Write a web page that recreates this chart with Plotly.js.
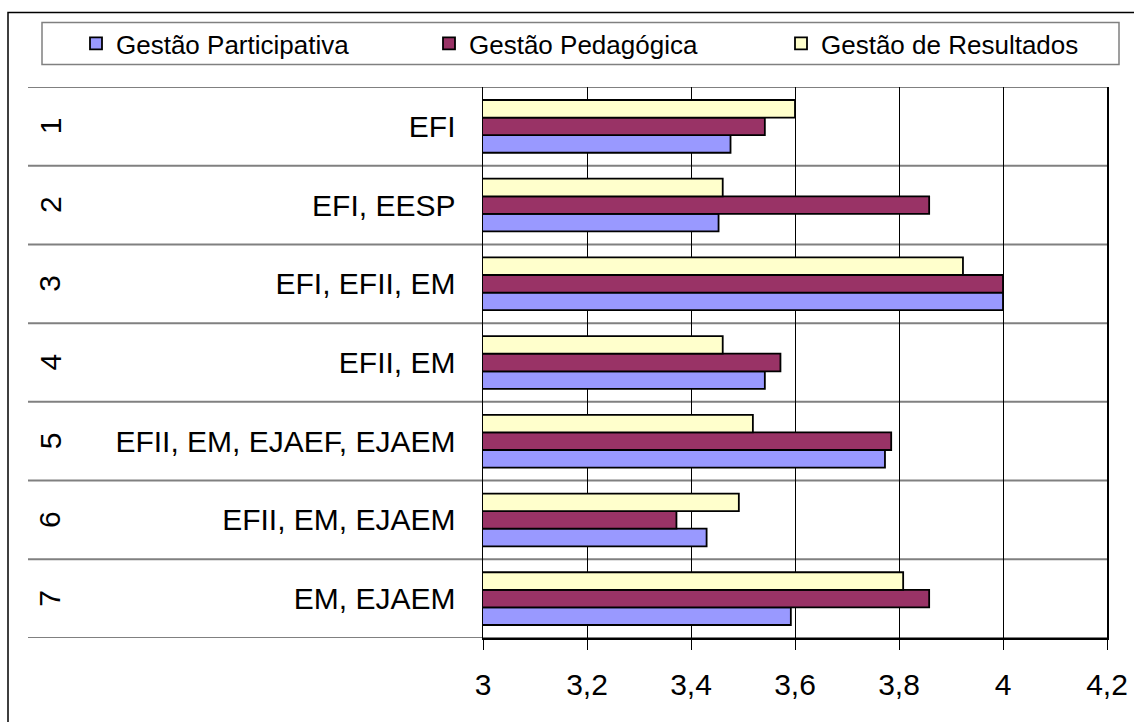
<!DOCTYPE html>
<html>
<head>
<meta charset="utf-8">
<script src="https://cdn.plot.ly/plotly-3.0.1.min.js"></script>
<style>html,body{margin:0;padding:0;background:#fff;}#chart{width:1134px;height:722px;}</style>
</head>
<body>
<div id="chart"></div>
<script>
// Category data (top to bottom as in the reference)
const groupNumbers = ['1', '2', '3', '4', '5', '6', '7'];
const categoryLabels = ['EFI', 'EFI, EESP', 'EFI, EFII, EM', 'EFII, EM', 'EFII, EM, EJAEF, EJAEM', 'EFII, EM, EJAEM', 'EM, EJAEM'];

// Series values (same order as categories)
const seriesNames = ['Gestão Participativa', 'Gestão Pedagógica', 'Gestão de Resultados'];
const participativa = [3.476, 3.453, 4.0, 3.542, 3.773, 3.430, 3.592];
const pedagogica    = [3.542, 3.858, 4.0, 3.572, 3.785, 3.372, 3.858];
const resultados    = [3.600, 3.461, 3.923, 3.461, 3.519, 3.492, 3.808];
const seriesColors = ['#9999FF', '#993366', '#FFFFCC'];

const xTickValues = [3, 3.2, 3.4, 3.6, 3.8, 4, 4.2];

const FONT = 'Arial, "Liberation Sans", sans-serif';
const seriesValues = [participativa, pedagogica, resultados];
const legendIds = ['legend', 'legend2', 'legend3'];

const traces = seriesNames.map((name, i) => ({
  type: 'bar',
  orientation: 'h',
  name: name,
  legend: legendIds[i],
  y: categoryLabels,
  x: seriesValues[i],
  base: 0,
  marker: { color: seriesColors[i], line: { color: '#000000', width: 1.8 } },
  hoverinfo: 'x+y+name'
}));

// paper-coordinate helpers for the plot frame (px -> paper)
const L = 483, R = 27, T = 87, B = 84, W = 1134, H = 722;
const pw = W - L - R, ph = H - T - B;
const px = v => (v - L) / pw;
const py = v => (H - B - v) / ph;

const shapes = [];
// outer chart border
shapes.push({ type: 'rect', xref: 'paper', yref: 'paper', x0: px(8), x1: px(1200), y0: py(800), y1: py(12.5),
  line: { color: '#000000', width: 1.5 }, fillcolor: 'rgba(0,0,0,0)', layer: 'below' });
// legend frame
shapes.push({ type: 'rect', xref: 'paper', yref: 'paper', x0: px(42), x1: px(1119), y0: py(64.5), y1: py(22.5),
  line: { color: '#808080', width: 1.5 }, fillcolor: '#ffffff', layer: 'below' });
// category separators (from label area across the plot)
for (let i = 0; i <= categoryLabels.length; i++) {
  shapes.push({ type: 'line', xref: 'paper', yref: 'y', x0: px(28), x1: 1, y0: i - 0.5, y1: i - 0.5,
    line: { color: '#808080', width: 2 }, layer: 'below' });
}

const annotations = groupNumbers.map((n, i) => ({
  xref: 'paper', yref: 'y', x: px(50), y: categoryLabels[i], text: n, showarrow: false,
  textangle: -90, font: { family: FONT, size: 30, color: '#000' }, xanchor: 'center', yanchor: 'middle'
}));

const legendLeft = [76, 429, 781];
const mkLegend = xpx => ({
  orientation: 'h', x: px(xpx), y: py(43.5), xanchor: 'left', yanchor: 'middle',
  borderwidth: 0, bgcolor: 'rgba(0,0,0,0)',
  font: { family: FONT, size: 26, color: '#000' }
});

const layout = {
  width: W, height: H,
  margin: { l: L, r: R, t: T, b: B, pad: 0 },
  paper_bgcolor: '#ffffff', plot_bgcolor: 'rgba(0,0,0,0)',
  separators: ',.',
  font: { family: FONT, color: '#000000' },
  barmode: 'group', bargap: 0.33, bargroupgap: 0,
  showlegend: true,
  legend: mkLegend(legendLeft[0]),
  legend2: mkLegend(legendLeft[1]),
  legend3: mkLegend(legendLeft[2]),
  xaxis: {
    range: [3, 4.2], tickvals: xTickValues, showgrid: true, gridcolor: '#000000', gridwidth: 1,
    zeroline: false, showline: true, linecolor: '#000000', linewidth: 1.5,
    ticks: 'outside', ticklen: 10, tickcolor: '#000000', tickwidth: 1,
    ticklabelstandoff: 9,
    tickfont: { family: FONT, size: 30, color: '#000' }, fixedrange: true
  },
  yaxis: {
    type: 'category', categoryorder: 'array', categoryarray: categoryLabels.slice().reverse(),
    range: [-0.5, categoryLabels.length - 0.5],
    showgrid: false, zeroline: false, showline: true, linecolor: '#000000', linewidth: 1.5, mirror: true,
    ticks: '', ticklabelstandoff: 20,
    tickfont: { family: FONT, size: 30, color: '#000' }, fixedrange: true
  },
  shapes: shapes,
  annotations: annotations
};

Plotly.newPlot('chart', traces, layout, { displayModeBar: false, staticPlot: true });
</script>
</body>
</html>
